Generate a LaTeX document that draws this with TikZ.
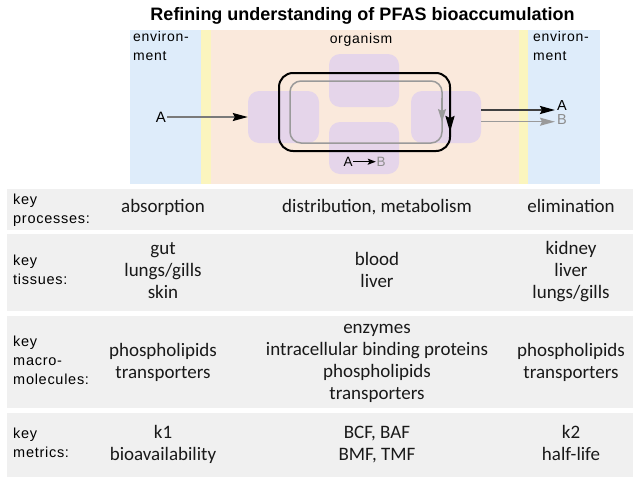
\documentclass[tikz,border=0pt]{standalone}
\usepackage{fontspec}
\setmainfont{Carlito}
\newfontfamily\lblfont[LetterSpace=5]{Liberation Sans}
\newfontfamily\ttlfont{Liberation Sans}
\usetikzlibrary{arrows.meta}
\definecolor{envblue}{HTML}{DEECFA}
\definecolor{memyellow}{HTML}{FBF5BE}
\definecolor{orgpeach}{HTML}{FAE9DC}
\definecolor{blobpurple}{HTML}{E5D5EA}
\definecolor{rowgray}{HTML}{F0F0F0}
\definecolor{linegray}{HTML}{7A7A7A}
\definecolor{loopgray}{HTML}{9A9A9A}
\definecolor{bgray}{HTML}{8C8C8C}
\newcommand\mcell[1]{\begin{tabular}[t]{@{}c@{}}#1\end{tabular}}
\newcommand\lcell[1]{\begin{tabular}[t]{@{}l@{}}#1\end{tabular}}
\tikzset{
  body/.style={font=\fontsize{19}{22.3}\selectfont, anchor=base, inner sep=0pt, text=black!90},
  lbl/.style={font=\lblfont\fontsize{14.5}{19}\selectfont, anchor=base west, inner sep=0pt},
  toplbl/.style={font=\lblfont\fontsize{14}{19}\selectfont, inner sep=0pt},
  blob/.style={fill=blobpurple, draw=none, rounded corners=11pt, inner sep=0pt},
  bigtip/.style={-{Stealth[length=15pt,width=8pt,inset=2pt,color=#1]}},
  smalltip/.style={-{Stealth[length=8pt,width=6pt,inset=1.5pt,color=#1]}},
}
\begin{document}
\begin{tikzpicture}[x=1pt,y=-1pt]
\useasboundingbox (0,0) rectangle (639,482);
\fill[white] (0,0) rectangle (639,482);
% title
\node[font=\ttlfont\bfseries\fontsize{18}{20}\selectfont, anchor=base, inner sep=0pt] (title) at (362.5,20) {Refining understanding of PFAS bioaccumulation};
% bands of top scheme
\fill[envblue] (130,30) rectangle (201,184);
\fill[memyellow] (201,30) rectangle (211,184);
\fill[orgpeach] (211,30) rectangle (519,184);
\fill[memyellow] (519,30) rectangle (528,184);
\fill[envblue] (528,30) rectangle (600,184);
\node[toplbl, anchor=base west] (envL) at (133,41) {\lcell{environ-\\ment}};
\node[toplbl, anchor=base west] (envR) at (533,41) {\lcell{environ-\\ment}};
\node[toplbl, anchor=base] (org) at (361,43) {organism};
% blobs
\node[blob, minimum width=71pt, minimum height=52pt] (absorb) at (283.5,117) {};
\node[blob, minimum width=70pt, minimum height=53pt] (distr) at (364,80.5) {};
\node[blob, minimum width=70pt, minimum height=52pt] (metab) at (364,148) {};
\node[blob, minimum width=70pt, minimum height=52pt] (elim) at (446,117) {};
% loops
\draw[line width=2pt, rounded corners=14pt] (279,73) rectangle (450,151);
\draw[line width=2pt, -{Stealth[length=16pt,width=9pt,inset=2pt]}] (450,105) -- (450,132);
\draw[line width=1.5pt, draw=loopgray, rounded corners=11pt] (290,81) rectangle (442,143);
\draw[line width=1.5pt, draw=loopgray, -{Stealth[length=13pt,width=8pt,inset=2pt,color=loopgray]}] (442,98) -- (442,122);
% inflow
\node[font=\lblfont\fontsize{15}{16}\selectfont, anchor=east, inner sep=1pt] (Ain) at (167,117) {A};
\draw[line width=1.5pt, draw=linegray, bigtip=black] (Ain.east) -- (absorb.west);
% metabolism A -> B
\node[font=\lblfont\fontsize{13.5}{15}\selectfont, inner sep=0.5pt] (mA) at (348,161.7) {A};
\node[font=\lblfont\fontsize{13.5}{15}\selectfont, text=bgray, inner sep=0.5pt] (mB) at (381,161.7) {B};
\draw[line width=1.2pt, smalltip=black] (mA.east) -- (mB.west);
% outflow
\node[font=\lblfont\fontsize{14.5}{16}\selectfont, anchor=west, inner sep=0pt] (Aout) at (557,106) {A};
\node[font=\lblfont\fontsize{14.5}{16}\selectfont, text=bgray, anchor=west, inner sep=0pt] (Bout) at (557,120) {B};
\draw[line width=2pt, draw=black!75, bigtip=black, shorten >=2pt] ([yshift=7pt]elim.east) -- ([yshift=7pt]elim.east -| Aout.west);
\draw[line width=1.5pt, draw=loopgray, bigtip=loopgray, shorten >=2pt] ([yshift=-4.7pt]elim.east) -- ([yshift=-4.7pt]elim.east -| Bout.west);
% table bands
\fill[rowgray] (7,189) rectangle (633,230);
\fill[rowgray] (7,234) rectangle (633,311);
\fill[rowgray] (7,316) rectangle (633,408);
\fill[rowgray] (7,413) rectangle (633,477);
% row labels
\node[lbl] (lproc) at (13,204) {\lcell{key\\processes:}};
\node[lbl] (ltiss) at (13,265.5) {\lcell{key\\tissues:}};
\node[lbl] (lmacro) at (13,346.5) {\lcell{key\\macro-\\molecules:}};
\node[lbl] (lmetr) at (13,438) {\lcell{key\\metrics:}};
% row 1
\node[body] (p1) at (163,212) {absorption};
\node[body] (p2) at (377,212) {distribution, metabolism};
\node[body] (p3) at (571,212) {elimination};
% row 2
\node[body] (t1) at (163,254) {\mcell{gut\\lungs/gills\\skin}};
\node[body] (t2) at (377,265) {\mcell{blood\\liver}};
\node[body] (t3) at (571,254) {\mcell{kidney\\liver\\lungs/gills}};
% row 3
\node[body] (m1) at (163,356) {\mcell{phospholipids\\transporters}};
\node[body] (m2) at (377,333) {\mcell{enzymes\\intracellular binding proteins\\phospholipids\\transporters}};
\node[body] (m3) at (571,356) {\mcell{phospholipids\\transporters}};
% row 4
\node[body] (k1) at (163,438) {\mcell{k1\\bioavailability}};
\node[body] (k2) at (377,438) {\mcell{BCF, BAF\\BMF, TMF}};
\node[body] (k3) at (571,438) {\mcell{k2\\half-life}};
\end{tikzpicture}
\end{document}
